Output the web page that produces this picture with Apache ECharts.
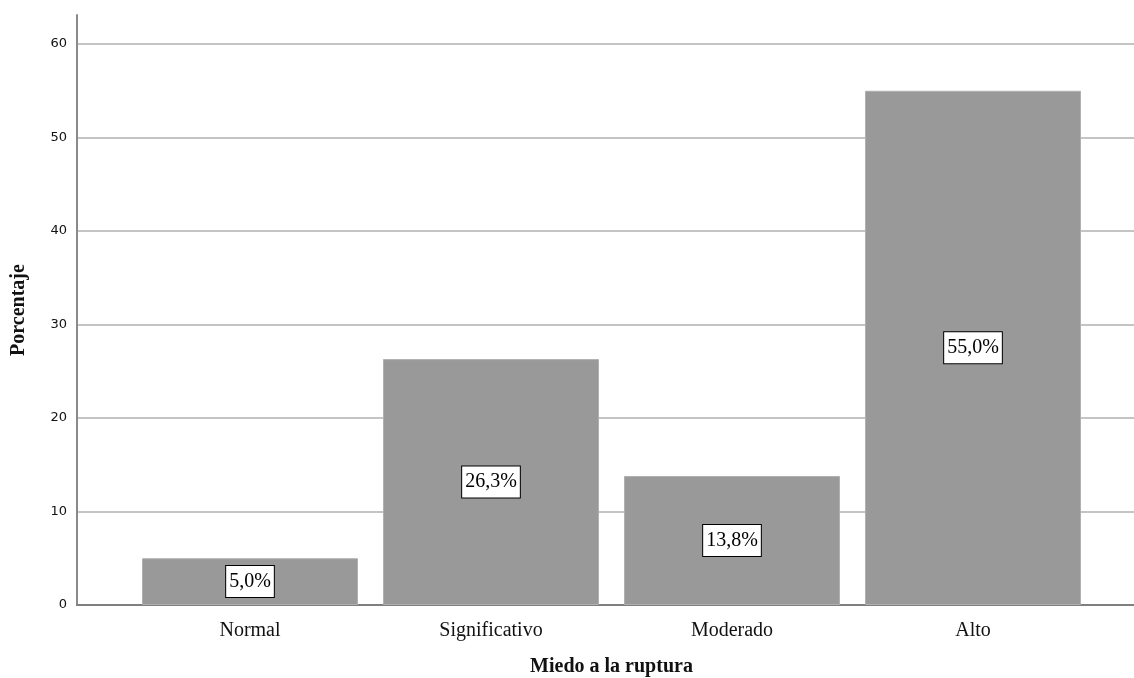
<!DOCTYPE html>
<html>
<head>
<meta charset="utf-8">
<script src="https://cdn.jsdelivr.net/npm/echarts@6/dist/echarts.min.js"></script>
<style>
html,body{margin:0;padding:0;background:#fff;}
#chart{width:1134px;height:678px;}
</style>
</head>
<body>
<div id="chart"></div>
<script>
const categories = ['Normal', 'Significativo', 'Moderado', 'Alto'];
const percentages = [5.0, 26.3, 13.8, 55.0];
const yTicks = [0, 10, 20, 30, 40, 50, 60];
const xAxisTitle = 'Miedo a la ruptura';
const yAxisTitle = 'Porcentaje';

const chart = echarts.init(document.getElementById('chart'), null, {renderer: 'canvas'});
const yMax = 63.1;
const option = {
  backgroundColor: '#ffffff',
  animation: false,
  grid: [
    {left: 77, right: 0, top: 15, bottom: 73, containLabel: false, outerBoundsMode: 'none'},
    {left: 129.5, right: 40.5, top: 15, bottom: 73, containLabel: false, outerBoundsMode: 'none'}
  ],
  xAxis: [
    {
      gridIndex: 0, type: 'value', min: 0, max: 1,
      axisLine: {show: true, lineStyle: {color: '#7f7f7f', width: 2}},
      axisTick: {show: false}, axisLabel: {show: false}, splitLine: {show: false}
    },
    {
      gridIndex: 1, type: 'category', data: categories,
      axisLine: {show: false}, axisTick: {show: false},
      axisLabel: {fontFamily: 'Liberation Serif', fontSize: 20, color: '#111', margin: 16},
      name: xAxisTitle, nameLocation: 'middle', nameGap: 52,
      nameTextStyle: {fontFamily: 'Liberation Serif', fontWeight: 'bold', fontSize: 20, color: '#111'}
    }
  ],
  yAxis: [
    {
      gridIndex: 0, type: 'value', min: 0, max: yMax, interval: 10,
      axisLine: {show: true, lineStyle: {color: '#8a8a8a', width: 2}},
      axisTick: {show: false},
      axisLabel: {
        fontFamily: 'DejaVu Sans', fontSize: 13, color: '#111', margin: 10,
        showMaxLabel: false,
        formatter: function (v) { return yTicks.indexOf(v) >= 0 ? String(v) : ''; }
      },
      splitLine: {show: true, showMaxLine: false, showMinLine: false, lineStyle: {color: '#c4c4c4', width: 2}},
      name: yAxisTitle, nameLocation: 'middle', nameGap: 48,
      nameTextStyle: {fontFamily: 'Liberation Serif', fontWeight: 'bold', fontSize: 20, color: '#111'}
    },
    {
      gridIndex: 1, type: 'value', min: 0, max: yMax, show: false
    }
  ],
  series: [
    {
      type: 'bar', xAxisIndex: 1, yAxisIndex: 1,
      data: percentages,
      barWidth: 216,
      itemStyle: {color: '#999999', borderColor: '#b0b0b0', borderWidth: 1},
      label: {
        show: true, position: 'inside',
        formatter: function (p) { return p.value.toFixed(1).replace('.', ',') + '%'; },
        fontFamily: 'Liberation Serif', fontSize: 20, color: '#000',
        backgroundColor: '#ffffff', borderColor: '#000', borderWidth: 1,
        padding: [6, 3, 5, 3]
      }
    }
  ]
};
chart.setOption(option);
</script>
</body>
</html>
